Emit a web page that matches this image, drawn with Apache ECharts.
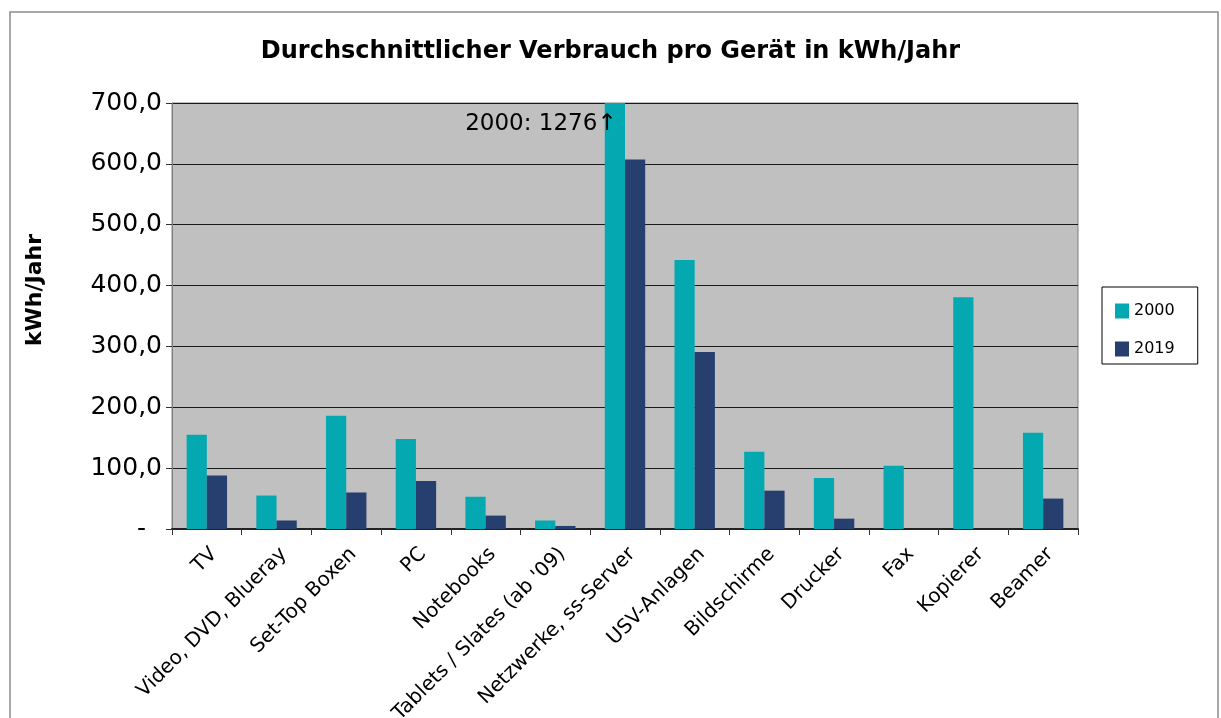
<!DOCTYPE html>
<html>
<head>
<meta charset="utf-8">
<script src="https://cdn.jsdelivr.net/npm/echarts@6/dist/echarts.min.js"></script>
<style>
  html, body { margin: 0; padding: 0; background: #fff; }
  #chart { width: 1221px; height: 718px; }
</style>
</head>
<body>
<div id="chart"></div>
<script>
// Geräte und Verbrauch (kWh/Jahr)
const categories = ["TV", "Video, DVD, Blueray", "Set-Top Boxen", "PC", "Notebooks",
  "Tablets / Slates (ab '09)", "Netzwerke, ss-Server", "USV-Anlagen", "Bildschirme",
  "Drucker", "Fax", "Kopierer", "Beamer"];
const values2000 = [155, 55, 186, 148, 53, 14, 1276, 442, 127, 84, 104, 381, 158];
const values2019 = [88, 14, 60, 79, 22, 5, 607, 291, 63, 17, 0, 0, 50];
const yTicks = [0, 100, 200, 300, 400, 500, 600, 700];

const font = "DejaVu Sans, Arial, sans-serif";
const yMax = yTicks[yTicks.length - 1];

const chart = echarts.init(document.getElementById("chart"));

// Balken ueber dem Maximum bekommen ein Label mit dem echten Wert
const data2000 = values2000.map(function (v) {
  if (v <= yMax) return v;
  return {
    value: v,
    label: {
      show: true,
      position: "insideTop",
      offset: [-74, 5],
      formatter: "2000: " + v + "\u2191",
      color: "#000",
      fontFamily: font,
      fontSize: 23
    }
  };
});

chart.setOption({
  animation: false,
  title: {
    text: "Durchschnittlicher Verbrauch pro Gerät in kWh/Jahr",
    left: "center",
    top: 35,
    textStyle: { color: "#000", fontFamily: font, fontWeight: "bold", fontSize: 24 }
  },
  graphic: [{
    type: "rect",
    shape: { x: 10, y: 12, width: 1208, height: 720 },
    style: { fill: "none", stroke: "#8c8c8c", lineWidth: 1.5 },
    silent: true
  }],
  legend: {
    orient: "vertical",
    left: 1102,
    top: 287,
    padding: [16, 23, 7, 13],
    itemGap: 22,
    itemWidth: 14,
    itemHeight: 15,
    borderColor: "#000",
    borderWidth: 1,
    icon: "rect",
    textStyle: { color: "#000", fontFamily: font, fontSize: 16 },
    data: ["2000", "2019"]
  },
  grid: {
    left: 172,
    right: 143,
    top: 103,
    bottom: 189,
    outerBoundsMode: "none",
    containLabel: false,
    show: true,
    backgroundColor: "#c0c0c0",
    borderColor: "#808080",
    borderWidth: 1
  },
  xAxis: {
    type: "category",
    data: categories,
    axisLine: { lineStyle: { color: "#222", width: 2 } },
    axisTick: { show: true, length: 6, lineStyle: { color: "#333" } },
    axisLabel: {
      interval: 0,
      rotate: 45,
      margin: 15,
      verticalAlign: "top",
      color: "#000",
      fontFamily: font,
      fontSize: 20
    }
  },
  yAxis: {
    type: "value",
    min: 0,
    max: yMax,
    interval: 100,
    name: "kWh/Jahr",
    nameLocation: "middle",
    nameRotate: 90,
    nameGap: 126,
    nameTextStyle: {
      color: "#000", fontFamily: font, fontWeight: "bold", fontSize: 22,
      padding: [0, 0, 0, 52]
    },
    axisLine: { show: true, lineStyle: { color: "#808080" } },
    axisTick: { show: true, length: 6, lineStyle: { color: "#333" } },
    splitLine: { lineStyle: { color: "#1a1a1a", width: 1 } },
    axisLabel: {
      margin: 10,
      color: "#000",
      fontFamily: font,
      fontSize: 25,
      formatter: function (v) {
        if (yTicks.indexOf(v) < 0) return "";
        return v === 0 ? "-  " : v.toFixed(1).replace(".", ",");
      }
    }
  },
  series: [
    {
      name: "2000",
      type: "bar",
      data: data2000,
      barGap: "0%",
      barCategoryGap: "42%",
      clip: true,
      itemStyle: { color: "#04a8b0" }
    },
    {
      name: "2019",
      type: "bar",
      data: values2019,
      clip: true,
      itemStyle: { color: "#273f6f" }
    }
  ]
});
</script>
</body>
</html>
